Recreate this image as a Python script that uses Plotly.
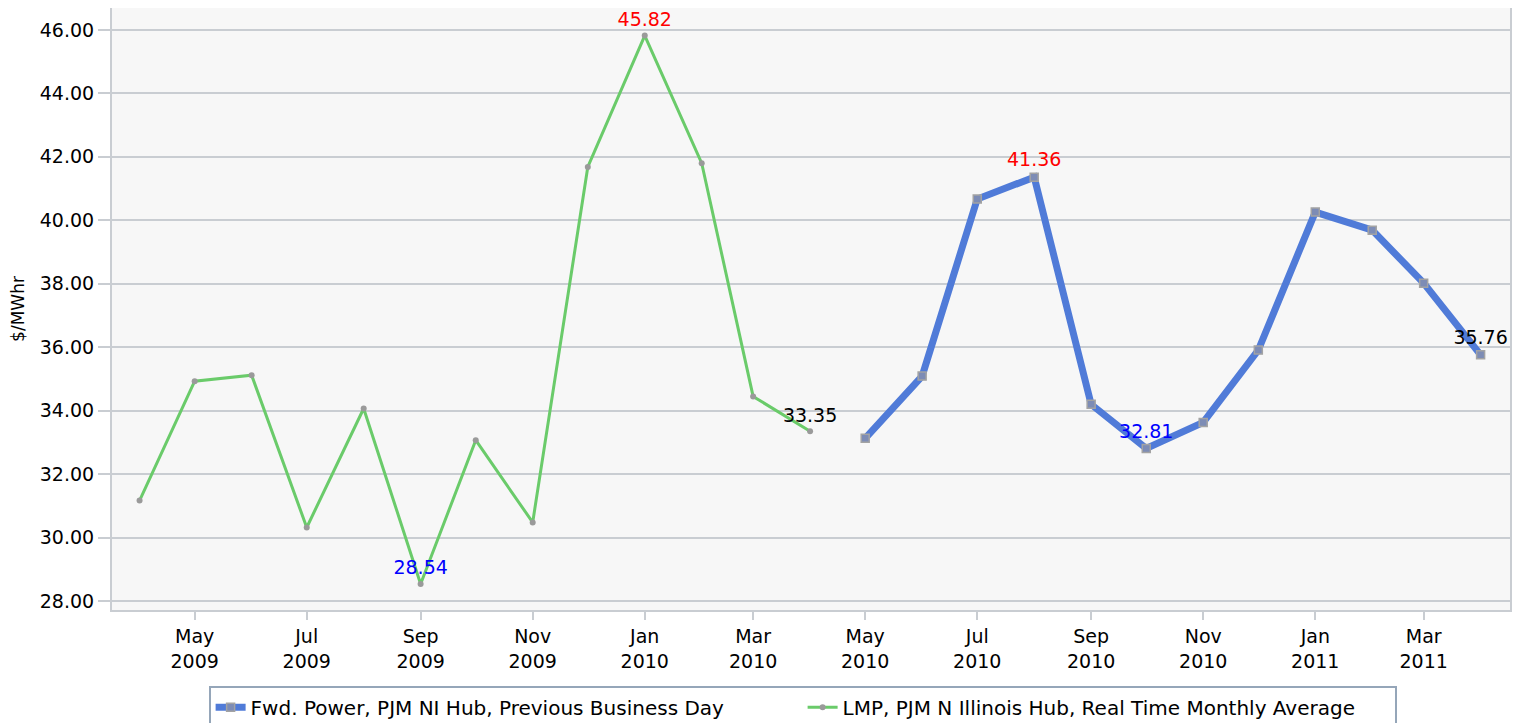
import plotly.graph_objects as go

# LMP, real time monthly average (Apr 2009 - Apr 2010)
lmp_months = ["2009-04-01", "2009-05-01", "2009-06-01", "2009-07-01", "2009-08-01",
              "2009-09-01", "2009-10-01", "2009-11-01", "2009-12-01", "2010-01-01",
              "2010-02-01", "2010-03-01", "2010-04-01"]
lmp_values = [31.17, 34.93, 35.12, 30.32, 34.07, 28.54, 33.07, 30.48, 41.68, 45.82,
              41.80, 34.45, 33.35]

# forward power, previous business day (May 2010 - Apr 2011)
fwd_months = ["2010-05-01", "2010-06-01", "2010-07-01", "2010-08-01", "2010-09-01",
              "2010-10-01", "2010-11-01", "2010-12-01", "2011-01-01", "2011-02-01",
              "2011-03-01", "2011-04-01"]
fwd_values = [33.13, 35.09, 40.67, 41.36, 34.20, 32.81, 33.63, 35.91, 40.26, 39.69,
              38.02, 35.76]

tick_dates = ["2009-05-01", "2009-07-01", "2009-09-01", "2009-11-01", "2010-01-01",
              "2010-03-01", "2010-05-01", "2010-07-01", "2010-09-01", "2010-11-01",
              "2011-01-01", "2011-03-01"]
tick_text = ["May<br>2009", "Jul<br>2009", "Sep<br>2009", "Nov<br>2009", "Jan<br>2010",
             "Mar<br>2010", "May<br>2010", "Jul<br>2010", "Sep<br>2010", "Nov<br>2010",
             "Jan<br>2011", "Mar<br>2011"]


def point_labels(values):
    # label the max (red), min (blue) and last value (black)
    hi = values.index(max(values))
    lo = values.index(min(values))
    last = len(values) - 1
    text = [""] * len(values)
    colors = ["black"] * len(values)
    text[hi] = "%.2f" % values[hi]
    colors[hi] = "red"
    text[lo] = "%.2f" % values[lo]
    colors[lo] = "blue"
    text[last] = "%.2f" % values[last]
    return text, colors


FONT = "DejaVu Sans"
grid_col = "#c9cdd2"

fig = go.Figure()

fwd_text, fwd_colors = point_labels(fwd_values)
fig.add_trace(
    go.Scatter(
        x=fwd_months,
        y=fwd_values,
        name="Fwd. Power, PJM NI Hub, Previous Business Day",
        mode="lines+markers+text",
        line=dict(color="#507bd8", width=7),
        marker=dict(symbol="square", size=8, color="#7d8cb5",
                    line=dict(color="#a3a3a3", width=1.5)),
        text=fwd_text,
        textposition="top center",
        textfont=dict(family=FONT, size=19, color=fwd_colors),
    )
)

lmp_text, lmp_colors = point_labels(lmp_values)
fig.add_trace(
    go.Scatter(
        x=lmp_months,
        y=lmp_values,
        name="LMP, PJM N Illinois Hub, Real Time Monthly Average",
        mode="lines+markers+text",
        line=dict(color="#6acb6a", width=3),
        marker=dict(symbol="circle", size=6, color="#9a9a9a"),
        text=lmp_text,
        textposition="top center",
        textfont=dict(family=FONT, size=19, color=lmp_colors),
    )
)

# page body adds an 8px offset, so the figure is 8px smaller each way
fig.update_layout(
    width=1520,
    height=715,
    margin=dict(l=104, r=18, t=0, b=113, autoexpand=False),
    paper_bgcolor="white",
    plot_bgcolor="#f7f7f7",
    font=dict(family=FONT, size=19, color="black"),
    showlegend=True,
    legend=dict(
        orientation="h",
        x=0.494,
        xanchor="center",
        y=-0.126,
        yanchor="top",
        bordercolor="#95a6b9",
        borderwidth=2,
        bgcolor="white",
        itemwidth=30,
        entrywidth=547,
        font=dict(family=FONT, size=20),
    ),
    xaxis=dict(
        type="date",
        range=["2009-03-17", "2011-04-17"],
        tickvals=tick_dates,
        ticktext=tick_text,
        ticks="outside",
        ticklen=8,
        tickwidth=2,
        tickcolor=grid_col,
        showgrid=False,
        showline=True,
        linecolor=grid_col,
        linewidth=2,
        mirror=True,
        zeroline=False,
        automargin=False,
    ),
    yaxis=dict(
        title=dict(text="$/MWhr", font=dict(size=17), standoff=20),
        range=[27.72, 46.69],
        tick0=28,
        dtick=2,
        tickformat=".2f",
        ticks="outside",
        ticklen=12,
        tickwidth=2,
        tickcolor=grid_col,
        showgrid=True,
        gridcolor=grid_col,
        gridwidth=2,
        showline=True,
        linecolor=grid_col,
        linewidth=2,
        mirror=True,
        zeroline=False,
        automargin=False,
    ),
)

fig.write_html("out.html")
